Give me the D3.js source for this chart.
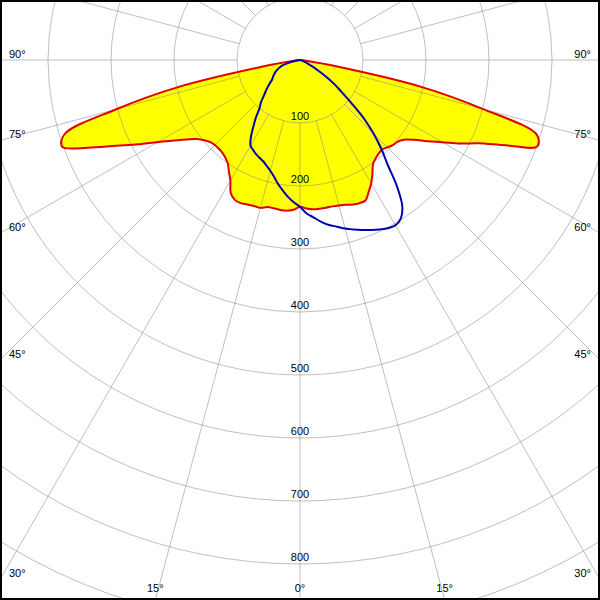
<!DOCTYPE html>
<html>
<head>
<meta charset="utf-8">
<script src="https://cdn.jsdelivr.net/npm/d3@7"></script>
<style>
html,body{margin:0;padding:0;background:#fff;}
svg{display:block;}
text{font-family:"Liberation Sans",Arial,sans-serif;font-size:11px;fill:#000;}
</style>
</head>
<body>
<svg id="chart" width="600" height="600"></svg>
<script>
// gamma angles (degrees from nadir)
const gammaAngles = [0,2.5,5,7.5,10,12.5,15,17.5,20,22.5,25,27.5,30,32.5,35,37.5,40,42.5,45,47.5,50,52.5,55,57.5,60,62.5,65,67.5,70,72.5,75,77.5,80,82.5,85,87.5,90];
// C0 plane (right) and C180 plane (left) - red, filled
const c0Values   = [233,236,238,238,238,238,239,241,244,246,246,236,226,214,202,197,194,193,196,200,202,208,221,240,261,287,313,354,401,394,300,197,60,10,2,0,0];
const c180Values = [233,238,240,240,239,239,243,243,244,246,245,238,221,210,200,195,192,191,191,193,198,206,220,238,260,290,322,364,402,392,302,197,60,10,2,0,0];
// C90 plane (right) and C270 plane (left) - blue
const c90Values  = [233,244,251,259,266,271,277,282,287,292,297,301,303,298,283,253,216,191,165,138,107,83,66,48,32,22,14,10,6,3,0,0,0,0,0,0,0];
const c270Values = [233,226,218,209,200,190,182,176,171,168,165,161,157,145,129,115,100,92,82,74,67,60,54,51,48,45,42,38,34,30,22,12,4,0,0,0,0];
// grid
const radialTickLabels = [100,200,300,400,500,600,700,800];
const gridCircles = [100,200,300,400,500,600,700,800,900,1000];
const angleTickLabels = [0,15,30,45,60,75,90];

const W = 600, H = 600, cx = 300, cy = 60;
const svg = d3.select("#chart");
svg.append("rect").attr("width",W).attr("height",H).attr("fill","#fff");

const r = d3.scaleLinear().domain([0,1000]).range([0,630]);
const toRad = d => d*Math.PI/180;

const g = svg.append("g").attr("transform",`translate(${cx},${cy})`);

function buildPlane(leftVals, rightVals){
  const pts = [];
  for (let i = gammaAngles.length-1; i >= 0; i--) pts.push({g:-gammaAngles[i], v:leftVals[i]});
  for (let i = 1; i < gammaAngles.length; i++) pts.push({g:gammaAngles[i], v:rightVals[i]});
  return pts;
}
const line = d3.lineRadial()
  .angle(d => Math.PI - toRad(d.g))
  .radius(d => r(d.v))
  .curve(d3.curveCatmullRom.alpha(0.5));

const redPts = buildPlane(c180Values, c0Values);
const bluePts = buildPlane(c270Values, c90Values);

// fill
g.append("path").attr("d", line(redPts) + "Z").attr("fill","#ffff00").attr("stroke","none");

// grid
const grid = g.append("g").attr("stroke","#808080").attr("stroke-opacity",0.5).attr("fill","none");
grid.selectAll("circle").data(gridCircles).join("circle").attr("r", d => r(d));
const spokes = d3.range(0,360,15);
grid.selectAll("line").data(spokes).join("line")
  .attr("x1", d => r(100)*Math.sin(toRad(d)))
  .attr("y1", d => r(100)*Math.cos(toRad(d)))
  .attr("x2", d => 1000*Math.sin(toRad(d)))
  .attr("y2", d => 1000*Math.cos(toRad(d)));

// curves
g.append("path").attr("d", line(redPts) + "Z").attr("fill","none").attr("stroke","#e00000").attr("stroke-width",2).attr("stroke-linejoin","round");
g.append("path").attr("d", line(bluePts)).attr("fill","none").attr("stroke","#0000b0").attr("stroke-width",2).attr("stroke-linejoin","round");

// radial value labels
g.selectAll("text.rv").data(radialTickLabels).join("text").attr("class","rv")
  .attr("x",0).attr("y", d => r(d) - 3).attr("text-anchor","middle").text(d => d);

// angle labels at the frame exit points
const angLabels = [];
angleTickLabels.forEach(a => {
  const sides = a === 0 ? [1] : [-1,1];
  sides.forEach(s => {
    const dx = s*Math.sin(toRad(a)), dy = Math.cos(toRad(a));
    const tx = Math.abs(dx) > 1e-9 ? ((s>0?W:0) - cx)/dx : Infinity;
    const ty = dy > 1e-9 ? (H - cy)/dy : Infinity;
    if (tx <= ty) {
      const ey = cy + tx*dy;
      angLabels.push({a, x: s>0 ? 591 : 9, y: ey - 6.5 + 4, anchor: s>0 ? "end" : "start"});
    } else {
      const ex = cx + ty*dx;
      angLabels.push({a, x: ex, y: 588 + 4, anchor: "middle"});
    }
  });
});
svg.selectAll("text.ang").data(angLabels).join("text").attr("class","ang")
  .attr("x", d => d.x).attr("y", d => d.y).attr("text-anchor", d => d.anchor)
  .text(d => d.a + "°");

// frame
svg.append("rect").attr("x",1).attr("y",1).attr("width",W-2).attr("height",H-2)
  .attr("fill","none").attr("stroke","#000").attr("stroke-width",2);
</script>
</body>
</html>
